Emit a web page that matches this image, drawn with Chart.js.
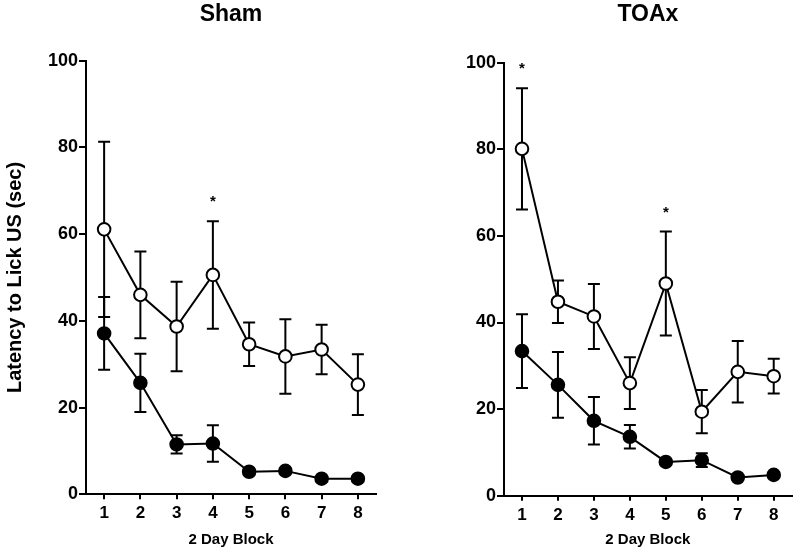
<!DOCTYPE html>
<html>
<head>
<meta charset="utf-8">
<script src="https://cdn.jsdelivr.net/npm/chart.js@4/dist/chart.umd.min.js"></script>
<style>
  html, body { margin: 0; padding: 0; background: #fff; }
  #wrap { position: relative; width: 800px; height: 556px; overflow: hidden; }
  canvas { position: absolute; top: 0; }
</style>
</head>
<body>
<div id="wrap">
  <canvas id="sham" width="400" height="556" style="left:0"></canvas>
  <canvas id="toax" width="400" height="556" style="left:400px"></canvas>
</div>
<script>
// ---- data ----
const blocks = ['1', '2', '3', '4', '5', '6', '7', '8'];
const yTicks = [0, 20, 40, 60, 80, 100];

const shamOpenMean   = [61.1, 46.0, 38.7, 50.6, 34.6, 31.8, 33.4, 25.3];
const shamOpenSem    = [20.2, 10.0, 10.3, 12.4, 5.0, 8.6, 5.7, 7.0];
const shamFilledMean = [37.1, 25.7, 11.5, 11.7, 5.2, 5.4, 3.6, 3.6];
const shamFilledSem  = [8.4, 6.7, 2.1, 4.2, 0.6, 0.6, 0.4, 0.4];
const shamStars      = ['4'];

const toaxOpenMean   = [80.1, 44.8, 41.4, 26.0, 49.0, 19.4, 28.6, 27.6];
const toaxOpenSem    = [14.0, 4.9, 7.5, 6.0, 12.0, 5.0, 7.1, 4.0];
const toaxFilledMean = [33.4, 25.6, 17.3, 13.6, 7.8, 8.2, 4.2, 4.8];
const toaxFilledSem  = [8.5, 7.6, 5.5, 2.7, 0.6, 1.6, 0.5, 0.5];
const toaxStars      = ['1', '5'];

const FONT = '"Liberation Sans", Arial, Helvetica, sans-serif';

// error bars (drawn under the markers) and significance stars
const errorBarPlugin = {
  id: 'errorBars',
  beforeDatasetsDraw(chart) {
    const ctx = chart.ctx;
    const y = chart.scales.y;
    ctx.save();
    ctx.strokeStyle = '#000';
    ctx.lineWidth = 2;
    chart.data.datasets.forEach((ds, di) => {
      const meta = chart.getDatasetMeta(di);
      if (!ds.errors) return;
      meta.data.forEach((pt, i) => {
        const m = ds.data[i], e = ds.errors[i];
        const yt = y.getPixelForValue(m + e), yb = y.getPixelForValue(m - e);
        ctx.beginPath();
        ctx.moveTo(pt.x, yt); ctx.lineTo(pt.x, yb);
        ctx.moveTo(pt.x - 6, yt); ctx.lineTo(pt.x + 6, yt);
        ctx.moveTo(pt.x - 6, yb); ctx.lineTo(pt.x + 6, yb);
        ctx.stroke();
      });
    });
    ctx.restore();
  },
  afterDatasetsDraw(chart, args, opts) {
    const stars = opts.stars || [];
    const ctx = chart.ctx;
    const x = chart.scales.x, y = chart.scales.y;
    const ds = chart.data.datasets[0];
    ctx.save();
    ctx.fillStyle = '#000';
    ctx.font = 'bold 15px ' + FONT;
    ctx.textAlign = 'center';
    ctx.textBaseline = 'alphabetic';
    stars.forEach(lbl => {
      const i = chart.data.labels.indexOf(lbl);
      const top = y.getPixelForValue(ds.data[i] + ds.errors[i]);
      ctx.fillText('*', x.getPixelForValue(i), top - 24 + 9);
    });
    ctx.restore();
  }
};

function makeChart(id, title, openMean, openSem, filledMean, filledSem, stars, geom) {
  const ctx = document.getElementById(id);
  return new Chart(ctx, {
    type: 'line',
    data: {
      labels: blocks,
      datasets: [
        {
          label: 'Open',
          data: openMean,
          errors: openSem,
          borderColor: '#000',
          borderWidth: 2,
          pointRadius: 6.3,
          pointBorderWidth: 2,
          pointBackgroundColor: '#fff',
          pointBorderColor: '#000',
          tension: 0,
          clip: false
        },
        {
          label: 'Filled',
          data: filledMean,
          errors: filledSem,
          borderColor: '#000',
          borderWidth: 2,
          pointRadius: 6.3,
          pointBorderWidth: 2,
          pointBackgroundColor: '#000',
          pointBorderColor: '#000',
          tension: 0,
          clip: false
        }
      ]
    },
    options: {
      responsive: false,
      animation: false,
      devicePixelRatio: 1,
      layout: { padding: { left: 0, right: geom.padRight, top: 0, bottom: 0 } },
      plugins: {
        legend: { display: false },
        tooltip: { enabled: false },
        title: {
          display: true,
          text: title,
          fullSize: false,
          color: '#000',
          font: { family: FONT, size: 23, weight: 'bold', lineHeight: 1.2 },
          padding: { top: 1, bottom: geom.top - 27.6 - 1 }
        },
        errorBars: { stars: stars }
      },
      scales: {
        x: {
          type: 'category',
          offset: true,
          grid: { display: true, drawOnChartArea: false, drawTicks: true, tickLength: 5, color: '#000', lineWidth: 2 },
          border: { display: true, color: '#000', width: 2 },
          ticks: { color: '#000', padding: 4, font: { family: FONT, size: 17, weight: 'bold' }, maxRotation: 0 },
          title: {
            display: true, text: '2 Day Block', color: '#000',
            font: { family: FONT, size: 15, weight: 'bold', lineHeight: 1.2 },
            padding: { top: 0, bottom: 7 }
          },
          afterFit(s) { s.height = 556 - geom.bottom; }
        },
        y: {
          min: 0, max: 100,
          afterBuildTicks(s) { s.ticks = yTicks.map(v => ({ value: v })); },
          grid: { display: true, drawOnChartArea: false, drawTicks: true, tickLength: 7, color: '#000', lineWidth: 2 },
          border: { display: true, color: '#000', width: 2 },
          ticks: { color: '#000', padding: 1, font: { family: FONT, size: 18, weight: 'bold' } },
          title: {
            display: geom.showYTitle, text: 'Latency to Lick US (sec)', color: '#000',
            font: { family: FONT, size: 20, weight: 'bold', lineHeight: 1.2 },
            padding: { top: 3, bottom: 0 }
          },
          afterFit(s) { s.width = geom.left; }
        }
      }
    },
    plugins: [errorBarPlugin]
  });
}

makeChart('sham', 'Sham', shamOpenMean, shamOpenSem, shamFilledMean, shamFilledSem, shamStars,
  { left: 86, padRight: 24, top: 60.7, bottom: 494.3, showYTitle: true });
makeChart('toax', 'TOAx', toaxOpenMean, toaxOpenSem, toaxFilledMean, toaxFilledSem, toaxStars,
  { left: 104, padRight: 6, top: 62.7, bottom: 495.7, showYTitle: false });
</script>
</body>
</html>
